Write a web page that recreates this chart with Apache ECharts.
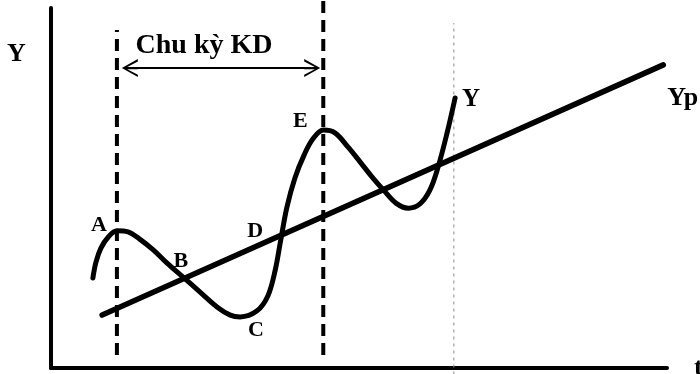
<!DOCTYPE html>
<html>
<head>
<meta charset="utf-8">
<script src="https://cdn.jsdelivr.net/npm/echarts@6/dist/echarts.min.js"></script>
<style>
  html, body { margin: 0; padding: 0; background: #fff; }
  #chart { width: 700px; height: 374px; }
</style>
</head>
<body>
<div id="chart"></div>
<script>
// Actual output Y over time t (fluctuating around potential output Yp)
const cycleT = [6.8, 7.3, 8.1, 9.3, 10.7, 12.5, 14.4, 16.6, 18.8, 21.4, 24.2, 27.0, 29.1, 30.7, 33.4, 35.2, 36.4, 37.3, 38.3, 39.6, 41.1, 42.5, 44.2, 46.1, 48.2, 50.2, 52.1, 54.1, 56.0, 58.0, 59.9, 61.5, 62.8, 64.3, 65.6];
const cycleY = [25.0, 29.4, 33.3, 36.4, 38.1, 37.8, 35.8, 32.8, 29.2, 25.3, 21.1, 16.9, 14.7, 14.2, 15.8, 20.0, 27.2, 35.6, 44.7, 52.8, 59.2, 63.6, 66.1, 65.3, 61.4, 57.2, 53.1, 49.2, 45.8, 44.4, 45.6, 49.4, 55.6, 65.3, 75.0];

// Potential output trend Yp
const trendT = [8.3, 99.4];
const trendY = [14.7, 84.2];

// Named phases of the cycle: peak A, B, trough C, D, peak E
const pointNames = ['A', 'B', 'C', 'D', 'E'];
const pointT = [10.7, 21.4, 30.5, 37.2, 44.2];
const pointY = [38.1, 25.0, 13.9, 36.7, 66.1];

// One business cycle runs from peak A to peak E
const cycleBoundT = [10.7, 44.2];
const cycleBoundTop = [93.9, 102.2];
const cycleBoundBottom = 3.6;
const cycleArrowY = 83.3;
const cycleLabel = 'Chu kỳ KD';

const ink = '#000000';
const serif = '"Liberation Serif", "DejaVu Serif", serif';

const pairs = (xs, ys) => xs.map((x, i) => [x, ys[i]]);

// Open chevron with a short shaft, pointing up (markLine rotates it along the line)
const chevron = 'path://M0,10 L5,0 L10,10 L8.7,10 L5.6,3.4 L5.6,10 L4.4,10 L4.4,3.4 L1.3,10 Z';

const labelOffsets = {
  A: [-18, -6],
  B: [-2, -17],
  C: [17, 12],
  D: [-25, -5],
  E: [-23, -9]
};

const boundSeries = cycleBoundT.map((t, i) => ({
  type: 'line',
  data: [[t, cycleBoundBottom], [t, cycleBoundTop[i]]],
  symbol: 'none',
  clip: false,
  silent: true,
  lineStyle: { color: ink, width: 4, type: [12, 7] },
  z: 1
}));

const chart = echarts.init(document.getElementById('chart'), null, { renderer: 'canvas' });

chart.setOption({
  backgroundColor: '#ffffff',
  animation: false,
  grid: { left: 51, right: 33, top: 8, bottom: 6, outerBoundsMode: 'none', containLabel: false },
  xAxis: {
    type: 'value', min: 0, max: 100,
    axisLine: { show: true, lineStyle: { color: ink, width: 4 } },
    axisTick: { show: false }, axisLabel: { show: false }, splitLine: { show: false },
    name: 't', nameLocation: 'end', nameGap: 27,
    nameTextStyle: { fontFamily: serif, fontSize: 26, fontWeight: 'bold', color: ink, verticalAlign: 'middle', padding: [0, 0, 14, 0] }
  },
  yAxis: {
    type: 'value', min: 0, max: 100,
    axisLine: { show: true, lineStyle: { color: ink, width: 4 } },
    axisTick: { show: false }, axisLabel: { show: false }, splitLine: { show: false }
  },
  graphic: [
    {
      type: 'text', left: 7, top: 41,
      style: { text: 'Y', font: 'bold 26px ' + serif, fill: ink }
    }
  ],
  series: [
    ...boundSeries,
    {
      // faint fold line of the printed page
      type: 'line',
      data: [[65.4, -1.8], [65.4, 95.8]],
      symbol: 'none', clip: false, silent: true,
      lineStyle: { color: '#8a8a8a', width: 1, type: [3, 4] },
      z: 0
    },
    {
      name: 'Yp',
      type: 'line',
      data: pairs(trendT, trendY),
      symbol: 'none',
      lineStyle: { color: ink, width: 5.5, cap: 'round' },
      endLabel: {
        show: true, formatter: 'Yp', offset: [-4, 33],
        fontFamily: serif, fontSize: 26, fontWeight: 'bold', color: ink
      },
      z: 3
    },
    {
      name: 'Y',
      type: 'line',
      data: pairs(cycleT, cycleY),
      symbol: 'none',
      smooth: 0.35,
      lineStyle: { color: ink, width: 5, cap: 'round', join: 'round' },
      endLabel: {
        show: true, formatter: 'Y', offset: [-1, 2],
        fontFamily: serif, fontSize: 25, fontWeight: 'bold', color: ink
      },
      z: 4
    },
    {
      // arrow spanning one cycle
      type: 'line',
      data: [],
      markLine: {
        silent: true,
        symbol: [chevron, chevron],
        symbolSize: [18, 16],
        lineStyle: { color: ink, width: 2.2, type: 'solid' },
        label: {
          show: true, position: 'middle', formatter: cycleLabel, distance: 8,
          padding: [0, 34, 0, 0],
          fontFamily: serif, fontSize: 28, fontWeight: 'bold', color: ink
        },
        data: [[
          { coord: [cycleBoundT[0] + 2.1, cycleArrowY] },
          { coord: [cycleBoundT[1] - 1.8, cycleArrowY] }
        ]]
      },
      z: 5
    },
    {
      type: 'scatter',
      data: pointNames.map((n, i) => ({ name: n, value: [pointT[i], pointY[i]] })),
      symbolSize: 0,
      silent: true,
      itemStyle: { opacity: 1 },
      label: {
        show: true,
        position: 'inside',
        formatter: p => p.name,
        fontFamily: serif, fontSize: 22, fontWeight: 'bold', color: ink
      },
      labelLayout: p => {
        const name = pointNames[p.dataIndex];
        const o = labelOffsets[name];
        return { dx: o[0], dy: o[1] };
      },
      z: 6
    }
  ]
});
</script>
</body>
</html>
